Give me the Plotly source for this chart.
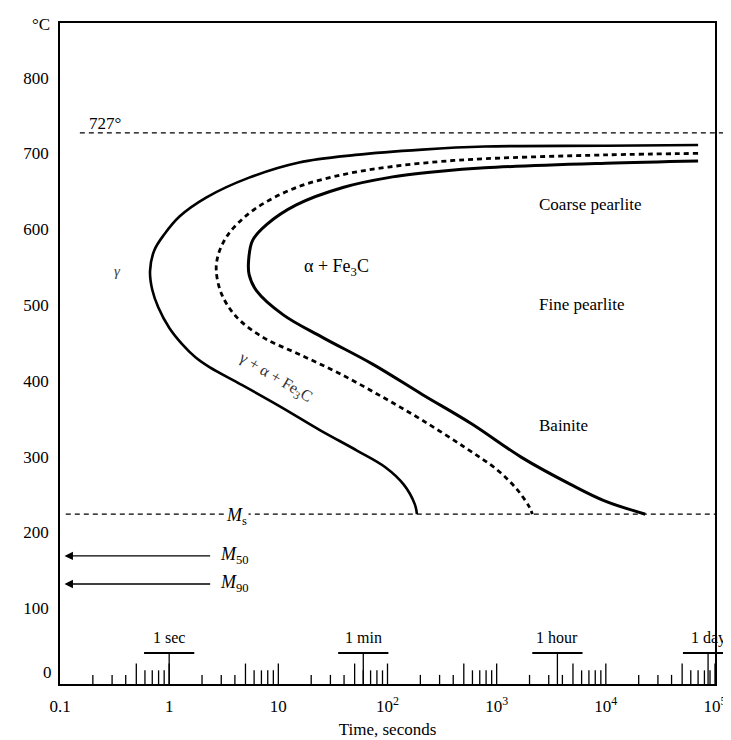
import numpy as np
import plotly.graph_objects as go

# ---------------- data ----------------
# Transformation start curve (solid, left)
START_TIME = [7.0e4, 1.0e4, 778, 208, 51, 15.5, 5.4, 2.2, 1.25, 0.90, 0.73, 0.668,
              0.70, 0.794, 1.0, 1.32, 1.74, 2.34, 4.57, 10.7, 24, 52.5, 95.5, 141, 178, 186]
START_TEMP = [711, 710, 709, 705, 698, 688, 668, 642, 617, 593, 572, 545,
              520, 497, 470, 448, 431, 418, 395, 365, 335, 308, 286, 263, 237, 224]

# 50 % transformation curve (dotted, middle)
MID_TIME = [7.0e4, 1.0e4, 778, 291, 102, 39, 14.6, 6.3, 3.9, 3.2, 2.8, 2.7,
            3.03, 4.15, 7.3, 15.5, 35.9, 89, 208, 512, 1020, 1550, 2000, 2120]
MID_TEMP = [700, 698, 693, 689, 682, 672, 655, 628, 602, 585, 565, 545,
            514, 484, 457, 435, 410, 379, 348, 312, 282, 256, 233, 224]

# Transformation finish curve (solid, right)
FINISH_TIME = [7.0e4, 1.0e4, 778, 291, 102, 39, 14.6, 7.8, 5.8, 5.35, 5.4, 6.3,
               11.1, 25.6, 73, 208, 593, 1690, 4800, 9600, 2.3e4]
FINISH_TEMP = [690, 687, 681, 676, 668, 655, 632, 606, 585, 560, 540, 519,
               487, 457, 422, 382, 343, 299, 263, 242, 224]

EUTECTOID_TEMP = 727
MS_TEMP = 224
MS_LINE_TIME = [0.113, 1.0e5]
M50_TEMP = 169
M90_TEMP = 132
MARTENSITE_ARROW_TIME = [0.11, 2.45]

Y_TICKS = [100, 200, 300, 400, 500, 600, 700, 800]
X_TICK_VALS = [0.1, 1, 10, 100, 1000, 1e4, 1e5]
X_TICK_TEXT = ["0.1", "1", "10", "10<sup>2</sup>", "10<sup>3</sup>",
               "10<sup>4</sup>", "10<sup>5</sup>"]

# small time marks drawn on the time axis
MARK_DECADES = [0.1, 1, 10, 100, 1000, 1e4]
MARK_MULTIPLIERS = [2, 3, 4, 5, 6, 7, 8, 9, 10]
MARK_HEIGHTS = [12, 12, 12, 27, 18, 18, 18, 18, 27]
SPECIAL_TIMES = [1, 60, 3600, 86400]
SPECIAL_LABELS = ["1 sec", "1 min", "1 hour", "1 day"]
SPECIAL_HEIGHT = 41
SPECIAL_HALF_WIDTH_DECADES = 0.23

XLOG_RANGE = [-1, 5]
Y_RANGE = [0, 872]

# ---------------- figure ----------------
fig = go.Figure()


def add_line(x, y, width, dash="solid", shape="spline"):
    fig.add_trace(go.Scatter(
        x=x, y=y, mode="lines",
        line=dict(color="black", width=width, dash=dash, shape=shape, smoothing=1.0),
        hoverinfo="skip", showlegend=False))


add_line(START_TIME, START_TEMP, 2.6)
add_line(MID_TIME, MID_TEMP, 2.8, dash="5px,4px")
add_line(FINISH_TIME, FINISH_TEMP, 3.0)

# Ms line
add_line(MS_LINE_TIME, [MS_TEMP, MS_TEMP], 1.3, dash="5px,4px", shape="linear")

# time marks on the axis
mx, my = [], []
for d in MARK_DECADES:
    for m, h in zip(MARK_MULTIPLIERS, MARK_HEIGHTS):
        t = d * m
        mx += [t, t, None]
        my += [0, h, None]
for t in SPECIAL_TIMES:
    mx += [t, t, None]
    my += [0, SPECIAL_HEIGHT, None]
fig.add_trace(go.Scatter(x=mx, y=my, mode="lines", line=dict(color="black", width=1.3),
                         hoverinfo="skip", showlegend=False))

span = XLOG_RANGE[1] - XLOG_RANGE[0]


def to_paper(t):
    return (np.log10(t) - XLOG_RANGE[0]) / span


# bars above the special times (paper x so the "1 day" bar can run past the frame)
for t, lab in zip(SPECIAL_TIMES, SPECIAL_LABELS):
    lt = np.log10(t)
    fig.add_shape(type="line", xref="paper", yref="y",
                  x0=to_paper(10 ** (lt - SPECIAL_HALF_WIDTH_DECADES)),
                  x1=to_paper(10 ** (lt + SPECIAL_HALF_WIDTH_DECADES)),
                  y0=SPECIAL_HEIGHT, y1=SPECIAL_HEIGHT,
                  line=dict(color="black", width=2))
    fig.add_annotation(x=lt, y=SPECIAL_HEIGHT + 20, text=lab, showarrow=False,
                       font=dict(size=16), xanchor="center", yanchor="middle")

# 727 line, running beyond the right frame
fig.add_shape(type="line", xref="paper", yref="y",
              x0=to_paper(0.152), x1=1.029, y0=EUTECTOID_TEMP, y1=EUTECTOID_TEMP,
              line=dict(color="black", width=1.3, dash="5px,4px"))

# martensite arrows
for temp, lab in [(M50_TEMP, "<i>M</i><sub>50</sub>"), (M90_TEMP, "<i>M</i><sub>90</sub>")]:
    fig.add_annotation(x=np.log10(MARTENSITE_ARROW_TIME[0]), y=temp,
                       ax=np.log10(MARTENSITE_ARROW_TIME[1]), ay=temp,
                       xref="x", yref="y", axref="x", ayref="y",
                       showarrow=True, arrowhead=2, arrowsize=1.2, arrowwidth=1.4,
                       arrowcolor="black", text="")
    fig.add_annotation(x=np.log10(MARTENSITE_ARROW_TIME[1]), y=temp, text=lab,
                       showarrow=False, xanchor="left", yanchor="middle", xshift=6,
                       font=dict(size=18))

# labels
fig.add_annotation(x=np.log10(4.15), y=MS_TEMP - 3, text="<i>M</i><sub>s</sub>",
                   showarrow=False, bgcolor="white", font=dict(size=18),
                   xanchor="center", yanchor="middle")
fig.add_annotation(x=np.log10(0.26), y=740, text="727°", showarrow=False,
                   font=dict(size=17), xanchor="center", yanchor="middle")
fig.add_annotation(x=np.log10(0.336), y=545, text="<i>γ</i>", showarrow=False,
                   font=dict(size=15, color="#444"), xanchor="center", yanchor="middle")
fig.add_annotation(x=np.log10(34), y=549, text="α + Fe<sub>3</sub>C", showarrow=False,
                   font=dict(size=18), xanchor="center", yanchor="middle")
fig.add_annotation(x=np.log10(9.4), y=405, text="γ + α + Fe<sub>3</sub>C", showarrow=False,
                   textangle=31, font=dict(size=16, color="#333"),
                   xanchor="center", yanchor="middle")
for txt, temp in [("Coarse pearlite", 632), ("Fine pearlite", 500), ("Bainite", 341)]:
    fig.add_annotation(x=np.log10(2360), y=temp, text=txt, showarrow=False,
                       font=dict(size=17), xanchor="left", yanchor="middle")
fig.add_annotation(x=-0.029, y=0.997, xref="paper", yref="paper", text="°C",
                   showarrow=False, font=dict(size=17), xanchor="center", yanchor="middle")
# the zero label of the temperature axis sits slightly above the time axis
fig.add_annotation(x=0, y=0, xref="paper", yref="y", text="0", showarrow=False,
                   xanchor="right", yanchor="middle", xshift=-6, yshift=12,
                   font=dict(size=17))

fig.update_layout(
    width=731, height=740,
    margin=dict(l=52, r=19, t=15, b=63),
    plot_bgcolor="white", paper_bgcolor="white",
    font=dict(family="Liberation Serif, Times New Roman, serif", color="black", size=17),
    showlegend=False,
)
fig.update_xaxes(type="log", range=XLOG_RANGE, tickvals=X_TICK_VALS, ticktext=X_TICK_TEXT,
                 showgrid=False, zeroline=False, showline=True, linecolor="black",
                 linewidth=1.5, mirror=True, ticks="", ticklabelstandoff=6,
                 title=dict(text="Time, seconds", standoff=8, font=dict(size=17)))
fig.update_yaxes(range=Y_RANGE, tickvals=Y_TICKS, showgrid=False, zeroline=False,
                 showline=True, linecolor="black", linewidth=1.5, mirror=True,
                 ticks="", ticklabelstandoff=6)

fig.write_html("out.html")
